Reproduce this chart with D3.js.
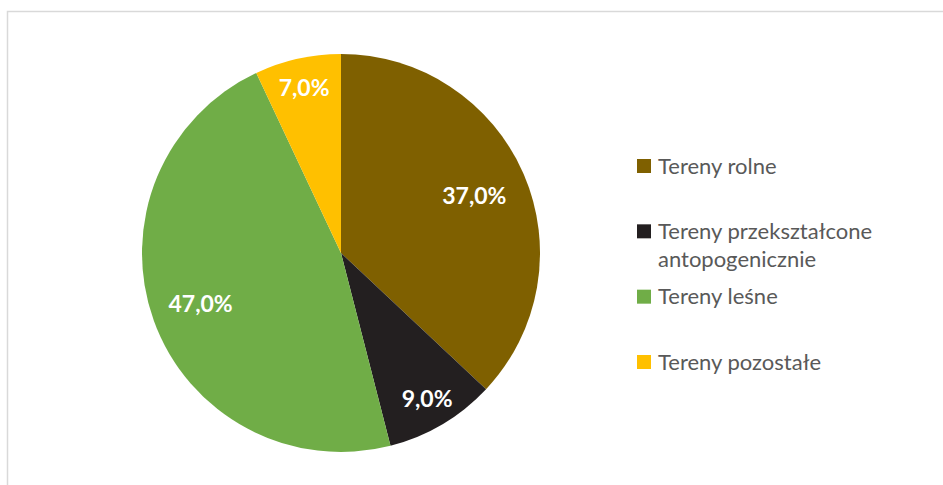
<!DOCTYPE html>
<html>
<head>
<meta charset="utf-8">
<style>
  body { margin: 0; background: #fff; }
  svg { display: block; }
</style>
</head>
<body>
<div id="chart"></div>
<script src="https://d3js.org/d3.v7.min.js"></script>
<script>
  const categories = ['Tereny rolne', 'Tereny przekształcone antopogenicznie', 'Tereny leśne', 'Tereny pozostałe'];
  const values = [37.0, 9.0, 47.0, 7.0];
  const colors = ['#7f6000', '#231f20', '#70ad47', '#ffc000'];
  // legend text, wrapped like the original
  const legendLines = [['Tereny rolne'], ['Tereny przekształcone', 'antopogenicznie'], ['Tereny leśne'], ['Tereny pozostałe']];
  // label distance from centre, as a share of the radius (Excel best-fit)
  const labelRadius = [0.73, 0.85, 0.75, 0.85];

  const W = 943, H = 485;
  const cx = 341, cy = 253, R = 199;

  const svg = d3.select('#chart').append('svg')
      .attr('width', W)
      .attr('height', H);

  svg.append('rect')
      .attr('x', 7.5).attr('y', 11.5)
      .attr('width', W).attr('height', H)
      .attr('fill', '#fff')
      .attr('stroke', '#d9d9d9')
      .attr('stroke-width', 1.5);

  const pie = d3.pie().sort(null).value(d => d)(values);
  const arc = d3.arc().innerRadius(0).outerRadius(R);

  const g = svg.append('g').attr('transform', `translate(${cx},${cy})`);

  g.selectAll('path.slice')
    .data(pie)
    .enter().append('path')
      .attr('class', 'slice')
      .attr('d', arc)
      .attr('fill', (d, i) => colors[i]);

  g.selectAll('text.lbl')
    .data(pie)
    .enter().append('text')
      .attr('class', 'lbl')
      .attr('transform', (d, i) => {
        const r = R * labelRadius[i];
        return `translate(${d3.arc().innerRadius(r).outerRadius(r).centroid(d)})`;
      })
      .attr('text-anchor', 'middle')
      .attr('dy', '0.36em')
      .attr('fill', '#fff')
      .style('font-family', 'Lato, "Open Sans", sans-serif')
      .style('font-weight', 'bold')
      .style('font-size', '23px')
      .text(d => d3.format('.1f')(d.data).replace('.', ',') + '%');

  const legendY = d3.scalePoint()
      .domain(d3.range(categories.length))
      .range([166, 362]);

  const lg = svg.append('g');
  const item = lg.selectAll('g.item')
    .data(categories)
    .enter().append('g')
      .attr('class', 'item')
      .attr('transform', (d, i) => `translate(637,${legendY(i)})`);

  item.append('rect')
      .attr('x', 0).attr('y', -7)
      .attr('width', 14).attr('height', 14)
      .attr('fill', (d, i) => colors[i]);

  item.append('text')
      .attr('x', 20)
      .attr('y', 0)
      .attr('fill', '#595959')
      .style('font-family', 'Lato, "Open Sans", sans-serif')
      .style('font-size', '22px')
      .each(function (d, i) {
        d3.select(this).selectAll('tspan')
          .data(legendLines[i])
          .enter().append('tspan')
            .attr('x', 21)
            .attr('dy', (t, j) => j === 0 ? '0.35em' : '28px')
            .text(t => t);
      });
</script>
</body>
</html>
